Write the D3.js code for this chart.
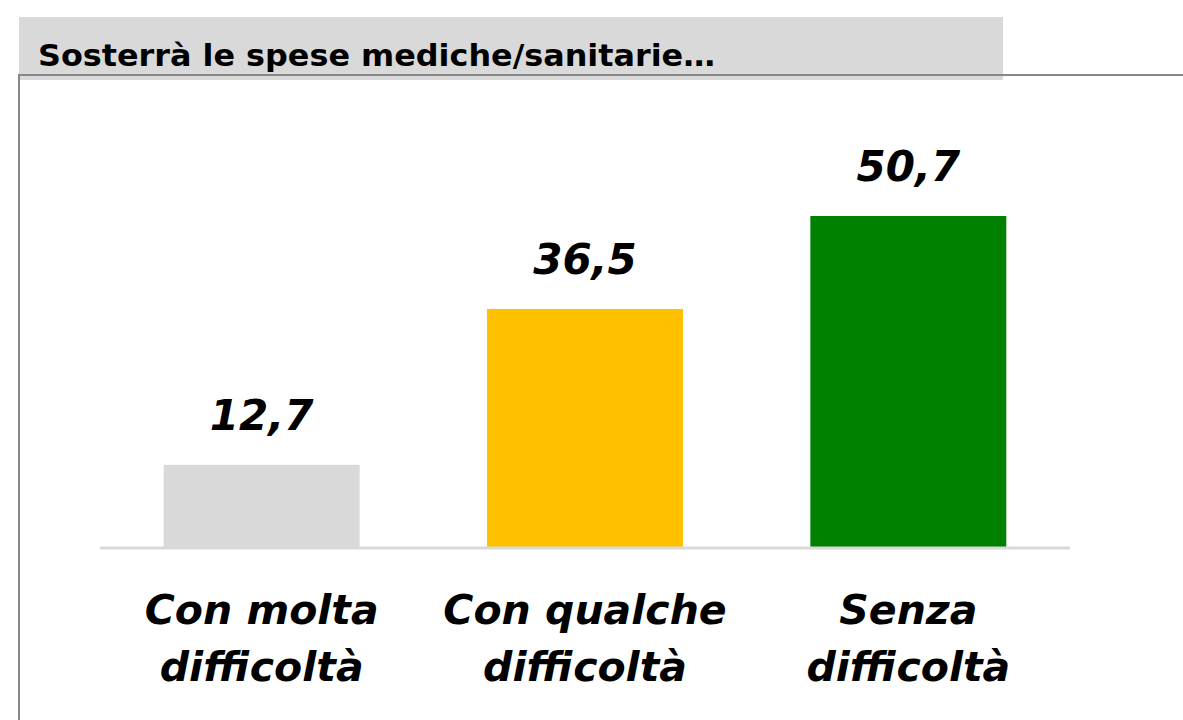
<!DOCTYPE html>
<html>
<head>
<meta charset="utf-8">
<script src="https://cdn.jsdelivr.net/npm/d3@7"></script>
<style>
  body { margin: 0; background: #fff; }
  text { font-family: "DejaVu Sans", sans-serif; }
</style>
</head>
<body>
<svg id="chart" width="1183" height="720"></svg>
<script>
// data
var titleText = "Sosterrà le spese mediche/sanitarie…";
var categories = [["Con molta", "difficoltà"], ["Con qualche", "difficoltà"], ["Senza", "difficoltà"]];
var values = [12.7, 36.5, 50.7];
var colors = ["#d9d9d9", "#ffc000", "#008000"];

var width = 1183, height = 720;
var svg = d3.select("#chart");

// title box + frame
svg.append("rect").attr("x", 19).attr("y", 17).attr("width", 984).attr("height", 63).attr("fill", "#d9d9d9");
svg.append("line").attr("x1", 18).attr("x2", width).attr("y1", 75).attr("y2", 75)
  .attr("stroke", "#888").attr("stroke-width", 2);
svg.append("line").attr("x1", 19).attr("x2", 19).attr("y1", 74).attr("y2", height)
  .attr("stroke", "#888").attr("stroke-width", 2);
svg.append("text").attr("x", 38).attr("y", 66)
  .attr("font-size", 30).attr("font-weight", "bold").attr("fill", "#000")
  .attr("textLength", 677).attr("lengthAdjust", "spacingAndGlyphs")
  .text(titleText);

var baseY = 548;
var x = d3.scaleBand().domain(d3.range(values.length)).range([100, 1070])
  .paddingInner(0.394).paddingOuter(0.197);
var y = d3.scaleLinear().domain([0, 50.7]).range([baseY, 216]);

svg.selectAll("rect.bar").data(values).enter().append("rect")
  .attr("class", "bar")
  .attr("x", function(d, i) { return x(i); })
  .attr("y", function(d) { return y(d); })
  .attr("width", x.bandwidth())
  .attr("height", function(d) { return baseY - y(d); })
  .attr("fill", function(d, i) { return colors[i]; });

// baseline
svg.append("line").attr("x1", 100).attr("x2", 1070).attr("y1", baseY).attr("y2", baseY)
  .attr("stroke", "#d9d9d9").attr("stroke-width", 3);

// value labels
svg.selectAll("text.val").data(values).enter().append("text")
  .attr("class", "val")
  .attr("x", function(d, i) { return x(i) + x.bandwidth() / 2; })
  .attr("y", function(d) { return y(d) - 35; })
  .attr("text-anchor", "middle")
  .attr("font-size", 42).attr("font-weight", "bold").attr("font-style", "italic")
  .text(function(d) { return d3.format(".1f")(d).replace(".", ","); });

// category labels
var cat = svg.selectAll("text.cat").data(categories).enter().append("text")
  .attr("class", "cat")
  .attr("text-anchor", "middle")
  .attr("font-size", 41).attr("font-weight", "bold").attr("font-style", "italic");
cat.each(function(d, i) {
  var t = d3.select(this);
  d.forEach(function(line, j) {
    t.append("tspan").attr("x", x(i) + x.bandwidth() / 2).attr("y", 624 + j * 57).text(line);
  });
});
</script>
</body>
</html>
